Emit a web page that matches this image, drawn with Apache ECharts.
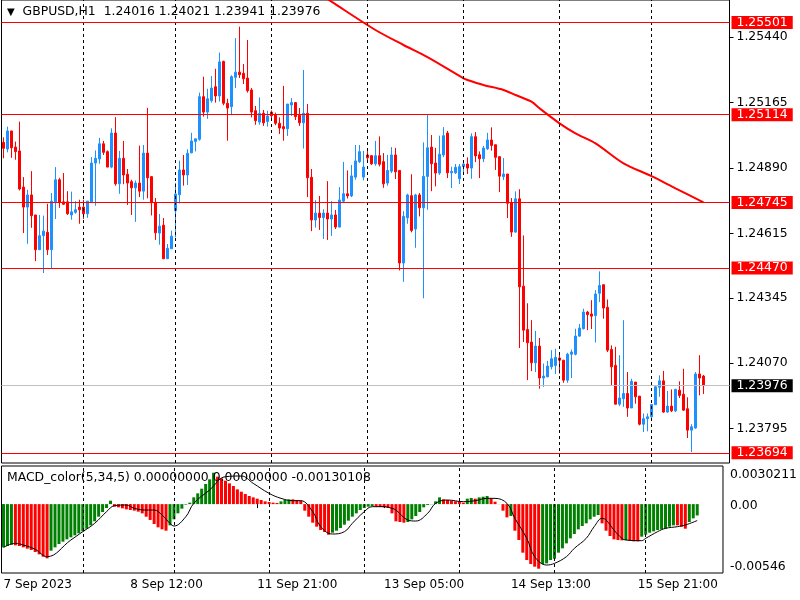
<!DOCTYPE html>
<html><head><meta charset="utf-8">
<script src="https://cdn.jsdelivr.net/npm/echarts@6/dist/echarts.min.js"></script>
<style>html,body{margin:0;padding:0;background:#fff}#c{width:800px;height:600px}</style>
</head><body><div id="c"></div>
<script>
const symbolName = 'GBPUSD,H1';
const open = [
1.24998,1.24970,1.25046,1.24978,1.24962,1.24810,1.24726,1.24777,1.24693,1.24547,
1.24606,1.24620,1.24547,1.24748,1.24841,1.24748,1.24748,1.24693,1.24704,1.24726,
1.24726,1.24698,1.24748,1.24911,1.24928,1.24992,1.24959,1.24894,1.25037,1.24824,
1.24931,1.24864,1.24833,1.24807,1.24827,1.24793,1.24953,1.24854,1.24744,1.24617,
1.24650,1.24509,1.24551,1.24711,1.24778,1.24882,1.24861,1.24954,1.25002,1.25011,
1.25190,1.25125,1.25173,1.25232,1.25193,1.25338,1.25162,1.25148,1.25271,1.25293,
1.25288,1.25268,1.25218,1.25131,1.25083,1.25120,1.25086,1.25125,1.25113,1.25078,
1.25064,1.25055,1.25155,1.25165,1.25112,1.25080,1.25120,1.24851,1.24672,1.24701,
1.24682,1.24701,1.24676,1.24693,1.24642,1.24751,1.24782,1.24773,1.24852,1.24917,
1.24852,1.24945,1.24942,1.24908,1.24942,1.24917,1.24827,1.24877,1.24945,1.24880,
1.24491,1.24681,1.24774,1.24634,1.24777,1.24723,1.24855,1.24978,1.24911,1.24869,
1.24945,1.25037,1.24870,1.24870,1.24845,1.24896,1.24907,1.24890,1.25022,1.24946,
1.24929,1.24971,1.25008,1.24988,1.24938,1.24854,1.24865,1.24744,1.24621,1.24761,
1.24394,1.24212,1.24159,1.24072,1.24142,1.24008,1.24013,1.24055,1.24061,1.24092,
1.24083,1.23999,1.24108,1.24108,1.24184,1.24215,1.24285,1.24277,1.24270,1.24364,
1.24400,1.24305,1.24128,1.24061,1.23898,1.23921,1.23943,1.23882,1.23991,1.23932,
1.23814,1.23837,1.23845,1.23896,1.23969,1.23996,1.23865,1.23890,1.23870,1.23957,
1.23940,1.23879,1.23789,1.23798,1.24025,1.24016];
const high = [
1.25019,1.25064,1.25046,1.25001,1.25085,1.24852,1.24799,1.24877,1.24693,1.24693,
1.24690,1.24740,1.24785,1.24894,1.24849,1.24869,1.24793,1.24791,1.24751,1.24757,
1.24757,1.24751,1.24936,1.24964,1.25017,1.25004,1.24964,1.25057,1.25104,1.24962,
1.25004,1.24886,1.24841,1.24838,1.24984,1.24987,1.25143,1.24856,1.24764,1.24697,
1.24680,1.24571,1.24627,1.24828,1.24921,1.24945,1.24969,1.25038,1.25013,1.25207,
1.25274,1.25223,1.25277,1.25307,1.25375,1.25341,1.25181,1.25280,1.25436,1.25484,
1.25327,1.25428,1.25226,1.25151,1.25187,1.25134,1.25131,1.25132,1.25123,1.25103,
1.25235,1.25159,1.25184,1.25165,1.25142,1.25302,1.25159,1.24886,1.24755,1.24773,
1.24717,1.24835,1.24751,1.24714,1.24810,1.24916,1.24880,1.24903,1.24987,1.24987,
1.24962,1.24962,1.24945,1.25004,1.25023,1.24953,1.24945,1.24978,1.24975,1.24880,
1.24709,1.24782,1.24864,1.24782,1.24785,1.24998,1.25116,1.25029,1.24975,1.25026,
1.25062,1.25046,1.24896,1.24907,1.24907,1.24915,1.24935,1.25036,1.25041,1.24960,
1.24983,1.25038,1.25061,1.24988,1.24938,1.24932,1.24865,1.24764,1.24792,1.24801,
1.24607,1.24322,1.24251,1.24206,1.24176,1.24069,1.24080,1.24125,1.24131,1.24111,
1.24083,1.24114,1.24128,1.24215,1.24235,1.24299,1.24290,1.24335,1.24377,1.24456,
1.24400,1.24338,1.24145,1.24139,1.24104,1.24251,1.24033,1.24005,1.23991,1.23932,
1.23859,1.23859,1.23898,1.23977,1.24019,1.24038,1.23954,1.23960,1.23963,1.23994,
1.24047,1.23927,1.23814,1.24033,1.24104,1.24021];
const low = [
1.24931,1.24956,1.24933,1.24925,1.24796,1.24617,1.24572,1.24639,1.24499,1.24547,
1.24449,1.24525,1.24469,1.24676,1.24723,1.24735,1.24693,1.24673,1.24698,1.24656,
1.24676,1.24681,1.24748,1.24732,1.24908,1.24945,1.24894,1.24889,1.24816,1.24782,
1.24822,1.24735,1.24693,1.24664,1.24768,1.24757,1.24763,1.24691,1.24588,1.24568,
1.24508,1.24508,1.24551,1.24599,1.24742,1.24816,1.24819,1.24952,1.24960,1.25005,
1.25106,1.25097,1.25165,1.25165,1.25170,1.25154,1.25005,1.25112,1.25226,1.25268,
1.25243,1.25207,1.25103,1.25072,1.25072,1.25067,1.25064,1.25100,1.25070,1.25033,
1.25005,1.25025,1.25109,1.25092,1.25067,1.24972,1.24768,1.24625,1.24640,1.24630,
1.24592,1.24588,1.24605,1.24634,1.24642,1.24746,1.24762,1.24768,1.24841,1.24911,
1.24838,1.24917,1.24903,1.24900,1.24897,1.24807,1.24816,1.24869,1.24844,1.24460,
1.24412,1.24656,1.24620,1.24555,1.24687,1.24343,1.24715,1.24793,1.24813,1.24861,
1.24936,1.24848,1.24806,1.24865,1.24823,1.24863,1.24865,1.24845,1.24915,1.24848,
1.24915,1.24966,1.24963,1.24882,1.24789,1.24840,1.24680,1.24601,1.24618,1.24134,
1.24159,1.23999,1.24037,1.24033,1.23963,1.23971,1.24011,1.24044,1.24025,1.24027,
1.23988,1.23988,1.24008,1.24103,1.24181,1.24212,1.24209,1.24214,1.24157,1.24327,
1.24257,1.24117,1.23977,1.23898,1.23890,1.23887,1.23845,1.23882,1.23900,1.23809,
1.23781,1.23784,1.23837,1.23896,1.23929,1.23862,1.23862,1.23865,1.23865,1.23924,
1.23870,1.23756,1.23697,1.23795,1.23935,1.23941];
const close = [
1.24973,1.25046,1.24975,1.24959,1.24802,1.24726,1.24777,1.24690,1.24547,1.24606,
1.24625,1.24547,1.24751,1.24841,1.24746,1.24738,1.24698,1.24706,1.24715,1.24715,
1.24698,1.24751,1.24911,1.24931,1.24992,1.24956,1.24894,1.25037,1.24824,1.24931,
1.24861,1.24827,1.24807,1.24827,1.24793,1.24953,1.24849,1.24744,1.24618,1.24646,
1.24509,1.24553,1.24604,1.24781,1.24882,1.24861,1.24952,1.25004,1.25013,1.25190,
1.25125,1.25181,1.25226,1.25193,1.25336,1.25162,1.25142,1.25274,1.25293,1.25282,
1.25265,1.25215,1.25125,1.25089,1.25120,1.25080,1.25109,1.25110,1.25078,1.25058,
1.25055,1.25159,1.25165,1.25106,1.25080,1.25120,1.24849,1.24672,1.24701,1.24682,
1.24701,1.24676,1.24693,1.24642,1.24756,1.24782,1.24773,1.24857,1.24920,1.24959,
1.24894,1.24933,1.24908,1.24942,1.24906,1.24824,1.24880,1.24945,1.24874,1.24491,
1.24687,1.24777,1.24628,1.24777,1.24723,1.24855,1.24975,1.24908,1.24869,1.24948,
1.25026,1.24870,1.24876,1.24893,1.24896,1.24907,1.24890,1.25022,1.24941,1.24929,
1.24974,1.25008,1.24985,1.24935,1.24856,1.24865,1.24742,1.24621,1.24761,1.24391,
1.24209,1.24156,1.24072,1.24142,1.24008,1.24016,1.24058,1.24089,1.24095,1.24083,
1.23999,1.24108,1.24117,1.24184,1.24218,1.24285,1.24274,1.24268,1.24361,1.24397,
1.24302,1.24125,1.24055,1.23898,1.23924,1.23943,1.23882,1.23994,1.23929,1.23814,
1.23837,1.23845,1.23897,1.23971,1.23996,1.23865,1.23890,1.23870,1.23960,1.23935,
1.23873,1.23789,1.23803,1.24025,1.24008,1.23976];

// moving average line (sampled readings: bar index, price)
const maIdx = [80,82,93,100,106,115,116,120,125,128,132,134,139,143,148,155,162,168,175];
const maVal = [1.25611,1.25589,1.25470,1.25407,1.25356,1.25267,1.25260,1.25239,1.25218,1.25197,1.25169,1.25141,1.25078,1.25036,1.24994,1.24910,1.24856,1.24805,1.24746];

// horizontal levels
const levels = [1.25501, 1.25114, 1.24745, 1.24470, 1.23694];

// price axis
const priceTicks = [1.25440, 1.25165, 1.24890, 1.24615, 1.24345, 1.24070, 1.23795];
const priceMin = 1.23651, priceMax = 1.25596;

// time axis
const xLabels = ['7 Sep 2023', '8 Sep 12:00', '11 Sep 21:00', '13 Sep 05:00', '14 Sep 13:00', '15 Sep 21:00'];
const xLabelIdx = [0, 32, 64, 96, 128, 160];
const dayLineIdx = [20, 43, 67, 91, 115, 139, 162];
const slotCount = 182;

// MACD
const macdTitle = 'MACD_color(5,34,5) 0.00000000 0.00000000 -0.00130108';
const macdMin = -0.00546, macdMax = 0.0030211;
const macdHist = [
-0.003427,-0.003321,-0.003216,-0.003268,-0.003321,-0.003427,-0.003532,-0.003638,-0.003797,-0.003982,-0.004166,-0.004299,
-0.003691,-0.003427,-0.003163,-0.002978,-0.002793,-0.002634,-0.002476,-0.002317,-0.002159,-0.001948,-0.001683,-0.001366,-0.000996,-0.000626,-0.000309,
0.000272,-0.000203,-0.000256,-0.000336,-0.000415,-0.000468,-0.000520,-0.000600,-0.000732,-0.000996,-0.001260,-0.001577,-0.001841,-0.002000,-0.002106,
-0.001683,-0.001207,-0.000732,-0.000362,-0.000045,0.000114,0.000536,0.000853,0.001223,0.001593,0.001963,0.002491,
0.002174,0.002042,0.001857,0.001646,0.001435,0.001170,0.000985,0.000801,0.000642,0.000536,0.000431,0.000325,0.000219,0.000166,0.000114,0.000087,
0.000219,0.000325,0.000378,0.000378,0.000325,0.000272,
-0.000520,-0.000996,-0.001472,-0.001789,-0.002053,-0.002211,-0.002423,
-0.002264,-0.002106,-0.001894,-0.001630,-0.001313,-0.000996,-0.000732,-0.000468,-0.000309,-0.000203,-0.000151,
-0.000203,-0.000230,-0.000256,-0.000309,-0.000732,-0.001366,
-0.001419,-0.001472,-0.001419,-0.001207,-0.000943,-0.000626,-0.000256,-0.000071,-0.000018,0.000219,0.000536,
0.000378,0.000325,0.000272,0.000219,0.000193,0.000114,0.000431,0.000483,0.000431,0.000536,0.000589,0.000642,0.000457,0.000193,0.000008,
-0.000520,-0.001049,-0.000943,-0.002106,-0.002845,-0.003849,-0.004430,-0.004747,-0.004959,-0.005117,
-0.004747,-0.004695,-0.004430,-0.004325,-0.003849,-0.003506,-0.003110,-0.002713,-0.002370,-0.002000,-0.001736,-0.001524,-0.001207,-0.000996,-0.000864,
-0.001524,-0.002106,-0.002528,-0.002793,-0.002845,-0.002872,-0.002845,-0.002898,-0.002951,-0.002951,
-0.002581,-0.002423,-0.002264,-0.002159,-0.002053,-0.002000,-0.001948,-0.001789,-0.001683,-0.001683,-0.001789,-0.001948,-0.001419,-0.001128,-0.000900];
const sigIdx = [0,3,5,8,11,17,20,23,26,28,31,33,36,38,40,42,43,46,48,52,56,60,63,67,70,73,75,78,80,83,86,88,91,93,96,98,99,102,104,107,109,112,116,119,122,124,127,129,132,134,137,139,142,144,147,149,151,152,154,156,157,161,162,165,167,170,172,175];
const sigVal = [-0.003427,-0.003110,-0.003242,-0.003585,-0.004166,-0.002845,-0.002185,-0.001524,-0.000600,-0.000124,-0.000071,-0.000336,-0.000468,-0.000468,-0.000864,-0.001524,-0.001736,-0.000996,0.000061,0.001118,0.002174,0.002227,0.001646,0.000853,0.000457,0.000272,0.000272,-0.000600,-0.001789,-0.002370,-0.002185,-0.001524,-0.000600,-0.000203,-0.000203,-0.000336,-0.000468,-0.001260,-0.001340,-0.000732,0.000061,0.000325,0.000193,0.000272,0.000457,0.000457,0.000061,-0.001128,-0.002713,-0.004166,-0.004827,-0.004695,-0.004166,-0.003506,-0.002713,-0.001789,-0.001128,-0.001260,-0.002053,-0.002713,-0.002845,-0.002898,-0.002713,-0.002185,-0.001921,-0.001789,-0.001656,-0.001301];

// ---------- build ----------
const FONT = 'DejaVu Sans';
const FS = 12.4;
const BULL = '#1E90FF', BEAR = '#FF0000', GREEN = '#008000';
const cats = Array.from({length: slotCount}, (_, i) => String(i));
const candleData = open.map((o, i) => [o, close[i], low[i], high[i]]);
const maData = cats.map(() => null); maIdx.forEach((k, j) => { maData[k] = maVal[j]; });
const sigData = cats.map(() => null); sigIdx.forEach((k, j) => { sigData[k] = sigVal[j]; });
const histData = macdHist.map((v, i) => ({ value: v, itemStyle: { color: (i === 0 || v > macdHist[i - 1]) ? GREEN : BEAR } }));
const last = close.length - 1;
const titleText = '{tri|▼}  ' + symbolName + '  ' + [open[last], high[last], low[last], close[last]].map(v => v.toFixed(5)).join(' ');

const lvlLabel = (bg) => ({ show: true, position: 'end', distance: 2, backgroundColor: bg, color: '#fff', padding: [1, 5, 0, 5], fontFamily: FONT, fontSize: FS });
const levelLines = levels.map(v => ({ yAxis: v, lineStyle: { color: '#FF0000', width: 1, type: 'solid' }, label: Object.assign(lvlLabel('#FF0000'), { formatter: v.toFixed(5) }) }));
levelLines.push({ yAxis: close[last], lineStyle: { color: '#C0C0C0', width: 1, type: 'solid' }, label: Object.assign(lvlLabel('#000000'), { formatter: close[last].toFixed(5) }) });
const dayLines = dayLineIdx.map(i => ({ xAxis: String(i) }));
const dashStyle = { color: '#000', width: 1, type: [3, 3] };
const gridBase = { left: 1.5, width: 728, show: true, borderColor: '#000', borderWidth: 1, backgroundColor: 'transparent' };

const chart = echarts.init(document.getElementById('c'), null, { renderer: 'canvas' });
chart.setOption({
  animation: false,
  backgroundColor: '#fff',
  textStyle: { fontFamily: FONT },
  title: [
    { text: titleText, left: 7, top: 6, padding: 0, textStyle: { fontFamily: FONT, fontSize: FS, fontWeight: 'normal', color: '#000', rich: { tri: { fontSize: 10, color: '#000', fontFamily: FONT } } } },
    { text: macdTitle, left: 7, top: 472, padding: 0, textStyle: { fontFamily: FONT, fontSize: FS, fontWeight: 'normal', color: '#000' } }
  ],
  grid: [
    Object.assign({ top: 0, height: 463 }, gridBase),
    Object.assign({ top: 466, height: 107 }, gridBase)
  ],
  xAxis: [
    { type: 'category', gridIndex: 0, data: cats, boundaryGap: true, axisLine: { show: false }, axisTick: { show: false }, axisLabel: { show: false }, splitLine: { show: false } },
    { type: 'category', gridIndex: 1, data: cats, boundaryGap: true, axisLine: { show: false },
      axisTick: { show: true, alignWithLabel: true, interval: (i) => xLabelIdx.includes(i), length: 4, lineStyle: { color: '#000' } },
      axisLabel: { interval: (i) => xLabelIdx.includes(i), formatter: (v) => xLabels[xLabelIdx.indexOf(Number(v))] || '', align: 'left', margin: 6, color: '#000', fontFamily: FONT, fontSize: 12 },
      splitLine: { show: false } }
  ],
  yAxis: [
    { type: 'value', gridIndex: 0, position: 'right', min: priceMin, max: priceMax, splitLine: { show: false }, axisLine: { show: false },
      axisTick: { show: true, customValues: priceTicks, length: 4, lineStyle: { color: '#000' } },
      axisLabel: { customValues: priceTicks, formatter: (v) => v.toFixed(5), margin: 7, color: '#000', fontFamily: FONT, fontSize: FS } },
    { type: 'value', gridIndex: 1, position: 'right', min: macdMin, max: macdMax, splitLine: { show: false }, axisLine: { show: false }, axisTick: { show: false },
      axisLabel: { customValues: [0], formatter: () => '{s| }\n{z|0.00}', margin: 7, color: '#000', fontFamily: FONT, fontSize: FS,
        rich: { s: { lineHeight: 3, fontSize: 3 }, z: { lineHeight: 15, fontSize: FS, fontFamily: FONT, color: '#000' } } } },
    { type: 'value', gridIndex: 1, position: 'right', min: macdMin, max: macdMax, splitLine: { show: false }, axisLine: { show: false }, axisTick: { show: false },
      axisLabel: { customValues: [macdMax], formatter: (v) => String(v), verticalAlign: 'top', padding: [3, 0, 0, 0], margin: 7, color: '#000', fontFamily: FONT, fontSize: FS } },
    { type: 'value', gridIndex: 1, position: 'right', min: macdMin, max: macdMax, splitLine: { show: false }, axisLine: { show: false }, axisTick: { show: false },
      axisLabel: { customValues: [macdMin], formatter: (v) => v.toFixed(5), verticalAlign: 'bottom', margin: 7, color: '#000', fontFamily: FONT, fontSize: FS } }
  ],
  series: [
    { type: 'line', xAxisIndex: 0, yAxisIndex: 0, data: cats.map(() => null), symbol: 'none', z: 1, silent: true,
      markLine: { silent: true, symbol: ['none', 'none'], label: { show: false }, lineStyle: dashStyle, data: dayLines } },
    { type: 'candlestick', xAxisIndex: 0, yAxisIndex: 0, data: candleData, barWidth: 3, z: 3,
      itemStyle: { color: BULL, color0: BEAR, borderColor: BULL, borderColor0: BEAR, borderWidth: 1 },
      markLine: { silent: true, precision: 5, symbol: ['none', 'none'], data: levelLines } },
    { type: 'line', xAxisIndex: 0, yAxisIndex: 0, data: maData, connectNulls: true, smooth: 0.3, symbol: 'none', z: 4, lineStyle: { color: '#FF0000', width: 2 } },
    { type: 'line', xAxisIndex: 1, yAxisIndex: 1, data: cats.map(() => null), symbol: 'none', z: 1, silent: true,
      markLine: { silent: true, symbol: ['none', 'none'], label: { show: false }, lineStyle: dashStyle, data: dayLines } },
    { type: 'bar', xAxisIndex: 1, yAxisIndex: 1, data: histData, barWidth: 3, z: 2 },
    { type: 'line', xAxisIndex: 1, yAxisIndex: 1, data: sigData, connectNulls: true, smooth: 0.4, symbol: 'none', z: 3, lineStyle: { color: '#000', width: 1 } }
  ]
});
</script>
</body></html>
